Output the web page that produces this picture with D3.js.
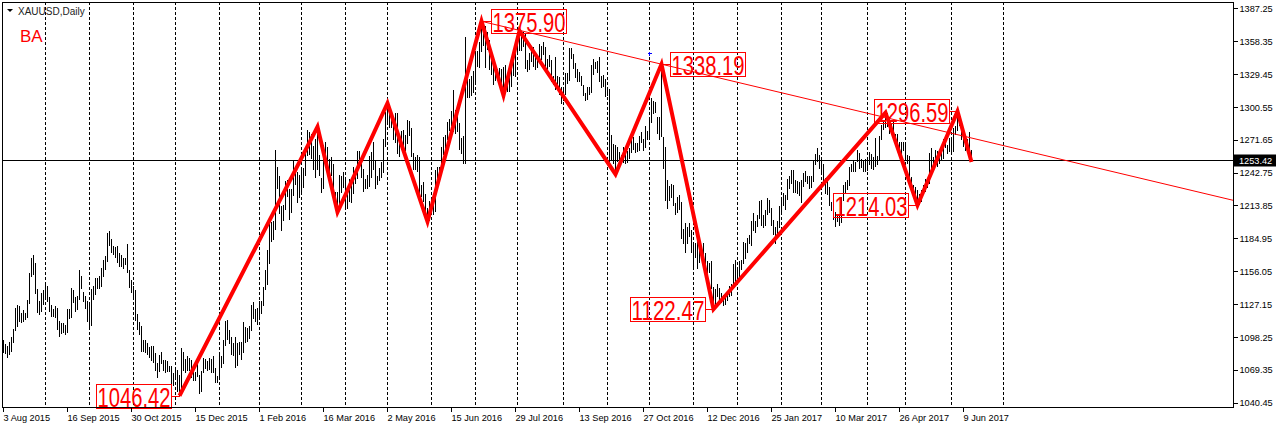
<!DOCTYPE html>
<html><head><meta charset="utf-8">
<script src="https://cdn.jsdelivr.net/npm/d3@7"></script>
<style>
body{margin:0;background:#fff;}
svg{display:block;}
text{font-family:"Liberation Sans",Arial,sans-serif;}
</style>
</head><body>
<svg id="c" width="1276" height="428"></svg>
<script>
// ---------------- DATA ----------------
const symbolTitle = "XAUUSD,Daily";
const studyName = "BA";
const startDate = "2015-08-03";
const holidays = ["2015-12-25", "2016-01-01", "2016-03-25", "2017-04-14"];

// daily highs (one per trading day from startDate)
const highs = [
// Aug 2015
1095,1092,1090,1094,1098,1105,1124,1126,1125,1119,1122,1119,1131,1154,1168,1170,1163,1140,1130,1137,1139,
// Sep 2015
1146,1143,1133,1126,1123,1125,1124,1112,1110,1110,1109,1123,1123,1141,1139,1133,1134,1157,1152,1138,1134,1130,
// Oct 2015
1127,1140,1143,1150,1150,1152,1159,1166,1169,1190,1191,1184,1178,1177,1178,1172,1170,1168,1168,1180,1157,1148,
// Nov 2015
1143,1139,1118,1111,1108,1095,1095,1093,1089,1090,1090,1084,1075,1082,1085,1078,1078,1077,1073,1073,1066,
// Dec 2015
1071,1069,1065,1088,1085,1079,1081,1080,1078,1072,1067,1080,1065,1068,1080,1079,1077,1080,1079,1081,1071,1064,
// Jan 2016
1083,1081,1095,1112,1113,1104,1098,1093,1098,1093,1094,1094,1111,1107,1106,1108,1126,1129,1123,1124,
// Feb 2016
1130,1130,1142,1157,1175,1200,1199,1200,1263,1248,1240,1213,1214,1235,1236,1228,1228,1253,1246,1243,1241,
// Mar 2016
1245,1247,1260,1280,1278,1277,1266,1272,1283,1258,1238,1267,1270,1265,1255,1256,1250,1226,1226,1241,1240,1243,
// Apr 2016
1237,1224,1237,1233,1248,1244,1262,1262,1257,1246,1237,1241,1257,1261,1270,1254,1240,1247,1252,1272,1296,
// May 2016
1303.7,1303,1294,1287,1295,1295,1268,1279,1280,1276,1289,1288,1282,1260,1256,1258,1256,1232,1234,1224,1212,1218,
// Jun 2016
1219,1215,1245,1248,1248,1265,1274,1276,1287,1290,1297,1315,1298,1294,1286,1273,1275,1362,1336,1325,1328,1332,
// Jul 2016
1350,1350,1358,1375.9,1368,1372,1366,1359,1348,1342,1338,1334,1335,1334,1336,1337,1324,1328,1343,1343,1357,
// Aug 2016
1357,1367.5,1364,1366,1365,1342,1348,1352,1353,1349,1345,1356,1354,1358,1353,1343,1346,1342,1328,1344,1328,1327,1318,
// Sep 2016
1318,1330,1330,1352,1352,1347,1339,1334,1331,1328,1320,1313,1318,1318,1337,1343,1340,1341,1344,1328,1329,1325,
// Oct 2016
1318,1316,1276,1268,1267,1265,1261,1258,1265,1262,1262,1264,1275,1274,1269,1269,1275,1278,1272,1284,1279,
// Nov 2016
1292,1308,1306,1305,1292,1292,1338.19,1274,1265,1236,1231,1233,1232,1216,1221,1223,1217,1193,1198,1195,1198,1192,
// Dec 2016
1182,1181,1190,1176,1178,1181,1172,1165,1163,1165,1142,1140,1145,1141,1137,1135,1134,1137,1143,1145,1162,1166,
// Jan 2017
1160,1165,1166,1182,1181,1185,1188,1200,1207,1200,1205,1218,1219,1205,1210,1220,1219,1212,1201,1195,1200,1213,
// Feb 2017
1220,1225,1223,1237,1240,1245,1245,1236,1235,1234,1236,1242,1244,1240,1240,1240,1253,1259,1264,1258,
// Mar 2017
1254,1250,1238,1237,1230,1217,1212,1208,1206,1205,1221,1232,1234,1236,1248,1250,1253,1252,1263,1260,1255,1253,1255,
// Apr 2017
1256,1261,1259,1256,1273,1257,1275,1285,1289,1295.4,1295,1292,1286,1289,1277,1277,1270,1270,1270,
// May 2017
1268,1258,1257,1239,1232,1230,1227,1224,1227,1232,1237,1238,1260,1264,1256,1263,1262,1259,1266,1272,1271,1267,1273,
// Jun 2017
1272,1282,1284,1296.59,1295,1289,1280,1270,1272,1278,1263
];

// daily lows
const lows = [
// Aug 2015
1084,1083,1080,1082,1085,1093,1103,1107,1111,1110,1111,1113,1115,1127,1151,1153,1136,1119,1117,1120,1126,
// Sep 2015
1131,1129,1120,1116,1116,1115,1104,1098,1101,1102,1100,1102,1114,1115,1128,1120,1122,1131,1140,1129,1123,1111,
// Oct 2015
1105,1108,1131,1135,1140,1140,1142,1151,1157,1164,1178,1172,1170,1168,1163,1160,1160,1158,1161,1154,1141,1137,
// Nov 2015
1131,1112,1104,1100,1085,1085,1084,1082,1080,1077,1075,1068,1062,1067,1074,1068,1066,1067,1067,1052,1055,
// Dec 2015
1061,1050,1046.42,1047,1068,1066,1068,1068,1062,1059,1059,1063,1047.5,1050,1066,1070,1068,1069,1066,1066,1058,1058,
// Jan 2016
1061,1071,1074,1090,1095,1092,1082,1081,1071,1073,1082,1078,1084,1093,1094,1096,1103,1114,1111,1109,
// Feb 2016
1115,1118,1125,1139,1144,1162,1182,1183,1192,1228,1206,1191,1200,1210,1221,1201,1207,1222,1232,1216,1220,
// Mar 2016
1225,1229,1240,1257,1258,1255,1245,1238,1245,1240,1225,1228,1253,1248,1240,1240,1221,1210,1208,1215,1225,1229,
// Apr 2016
1210,1211,1217,1216,1224,1233,1237,1250,1238,1226,1228,1228,1230,1238,1245,1228,1232,1235,1238,1242,1265,
// May 2016
1287,1282,1282,1271,1269,1259,1256,1263,1262,1262,1268,1275,1256,1245,1245,1243,1224,1221,1217,1205,1199.6,1200,
// Jun 2016
1207,1205,1208,1237,1238,1241,1258,1260,1271,1279,1284,1278,1277,1278,1263,1259,1250,1250,1308,1308,1310,1313,
// Jul 2016
1320,1336,1335,1349,1354,1335,1351,1333,1329,1320,1323,1325,1318,1314,1310.7,1318,1314,1314,1318,1328,1327,
// Aug 2016
1346,1350,1350,1353,1334,1331,1333,1340,1336,1333,1335,1339,1342,1346,1336,1333,1336,1322,1320,1315,1318,1311,1303,
// Sep 2016
1306,1311,1321,1323,1343,1334,1326,1322,1322,1319,1310,1306,1307,1311,1313,1329,1334,1330,1322,1317,1318,1309,
// Oct 2016
1310,1248,1253,1250,1241.3,1252,1249,1250,1251,1250,1251,1255,1260,1263,1260,1261,1262,1269,1262,1264,1271,
// Nov 2016
1273,1286,1294,1295,1277,1271,1274,1246,1218,1211,1218,1220,1213,1205,1207,1210,1184,1180,1172,1180,1186,1172,
// Dec 2016
1160,1168,1158,1163,1167,1167,1158,1152,1154,1140,1122.47,1125,1133,1127,1128,1125,1126,1130,1133,1134,1142,1145,
// Jan 2017
1146,1148,1157,1162,1167,1172,1180,1178,1191,1190,1195,1202,1196,1194,1196,1205,1207,1196,1188,1180,1187,1194,
// Feb 2017
1205,1213,1210,1219,1228,1233,1225,1225,1224,1222,1216,1230,1234,1233,1228,1229,1234,1249,1252,1246,
// Mar 2017
1241,1233,1224,1223,1213,1209,1201,1195,1199,1196,1198,1218,1225,1227,1231,1243,1243,1243,1252,1246,1247,1243,1243,
// Apr 2017
1244,1249,1246,1245,1248,1249,1253,1271,1280,1282,1283,1277,1277,1278,1266,1262,1262,1258,1262,
// May 2017
1253,1250,1235,1226,1222,1221,1214.03,1214.5,1217,1223,1226,1229,1233,1245,1245,1253,1248,1250,1253,1255,1264,1259,1261,
// Jun 2017
1260,1261,1276,1279,1284,1271,1265,1262,1262,1257,1252
];

const yTickValues = [1387.25,1358.35,1329.45,1300.55,1271.65,1242.75,1213.85,1184.95,1156.05,1127.15,1098.25,1069.35,1040.45];
const xTickDates = ["2015-08-03","2015-09-16","2015-10-30","2015-12-15","2016-02-01","2016-03-16","2016-05-02","2016-06-15",
                    "2016-07-29","2016-09-13","2016-10-27","2016-12-12","2017-01-25","2017-03-10","2017-04-26","2017-06-09"];
const gridMonths = ["2015-09-01","2015-10-01","2015-11-01","2015-12-01","2016-01-01","2016-02-01","2016-03-01","2016-04-01",
                    "2016-05-01","2016-06-01","2016-07-01","2016-08-01","2016-09-01","2016-10-01","2016-11-01","2016-12-01",
                    "2017-01-01","2017-02-01","2017-03-01","2017-04-01","2017-05-01","2017-06-01","2017-07-01"];

// zigzag vertices
const zigzagDates  = ["2015-12-03","2016-03-11","2016-03-28","2016-05-02","2016-05-30","2016-07-06","2016-07-21","2016-08-02",
                      "2016-10-07","2016-11-09","2016-12-15","2017-04-17","2017-05-09","2017-06-06","2017-06-15"];
const zigzagPrices = [1046.42,1283,1208,1303.7,1199.6,1375.9,1310.7,1367.5,1241.3,1338.19,1122.47,1295.4,1214.03,1296.59,1252];

// price labels on zigzag
const labelDates = ["2015-12-03","2016-07-06","2016-11-09","2016-12-15","2017-05-09","2017-06-06"];
const labelPrices = [1046.42,1375.90,1338.19,1122.47,1214.03,1296.59];
const labelSides = ["left","right","right","left","left","left"];

// trend line through two peaks
const trendDates = ["2016-07-06","2016-11-09"];
const trendPrices = [1375.90,1338.19];

const lastPrice = 1253.42;
const markerDate = "2016-11-01", markerPrice = 1347.9;

// ---------------- LAYOUT ----------------
const W = 1276, H = 428;
const L = 2, T = 2, R = 1233, B = 407;
const svg = d3.select("#c");

const parse = d3.utcParse("%Y-%m-%d");
const keyFmt = d3.utcFormat("%Y-%m-%d");
const labFmt = d3.utcFormat("%-d %b %Y");
const hol = new Set(holidays);
const dates = [];
let dd = parse(startDate);
while (dates.length < highs.length) {
  const dow = dd.getUTCDay();
  if (dow !== 0 && dow !== 6 && !hol.has(keyFmt(dd))) dates.push(dd);
  dd = d3.utcDay.offset(dd, 1);
}
function idxOf(s) {
  const t = parse(s);
  const i = d3.bisectLeft(dates, t);
  if (i < dates.length) return i;
  return dates.length - 1 + d3.utcDay.count(dates[dates.length - 1], t);
}

const x = d3.scaleLinear().domain([0, 615]).range([3, 1233]);
const y = d3.scaleLinear().domain([1040.45, 1387.25]).range([402.5, 8.3]);
const px = v => Math.round(x(v)) + 0.5;

svg.append("defs").append("clipPath").attr("id", "clip")
  .append("rect").attr("x", L).attr("y", T).attr("width", R - L).attr("height", B - T);

const plot = svg.append("g").attr("clip-path", "url(#clip)");

// grid (dashed verticals at month starts)
plot.append("g").selectAll("line").data(gridMonths).join("line")
  .attr("x1", d => px(idxOf(d))).attr("x2", d => px(idxOf(d)))
  .attr("y1", T).attr("y2", B)
  .attr("stroke", "#000").attr("stroke-width", 1)
  .attr("stroke-dasharray", "3,2").attr("shape-rendering", "crispEdges");

// current price line
plot.append("line")
  .attr("x1", L).attr("x2", R)
  .attr("y1", Math.round(y(lastPrice)) + 0.5).attr("y2", Math.round(y(lastPrice)) + 0.5)
  .attr("stroke", "#000").attr("shape-rendering", "crispEdges");

// bars
plot.append("g").selectAll("line").data(highs.map((h, i) => ({i, h, l: lows[i]}))).join("line")
  .attr("x1", d => px(d.i)).attr("x2", d => px(d.i))
  .attr("y1", d => Math.round(y(d.h))).attr("y2", d => Math.max(Math.round(y(d.l)), Math.round(y(d.h)) + 1))
  .attr("stroke", "#000").attr("stroke-width", 1).attr("shape-rendering", "crispEdges");

// trend line
const ti0 = idxOf(trendDates[0]), ti1 = idxOf(trendDates[1]);
const slope = (trendPrices[1] - trendPrices[0]) / (ti1 - ti0);
const tEnd = x.invert(R);
plot.append("path")
  .datum([[ti0, trendPrices[0]], [tEnd, trendPrices[0] + slope * (tEnd - ti0)]])
  .attr("d", d3.line().x(d => x(d[0])).y(d => y(d[1])))
  .attr("fill", "none").attr("stroke", "#ff0000").attr("stroke-width", 1);

// zigzag
plot.append("path")
  .datum(zigzagDates.map((d, i) => [idxOf(d), zigzagPrices[i]]))
  .attr("d", d3.line().x(d => x(d[0]) + 0.5).y(d => y(d[1])))
  .attr("fill", "none").attr("stroke", "#ff0000").attr("stroke-width", 4)
  .attr("stroke-linejoin", "miter");

// blue cross marker
const mx = px(idxOf(markerDate)), my = Math.round(y(markerPrice)) + 0.5;
plot.append("path").attr("d", `M${mx - 2},${my}H${mx + 2}M${mx},${my - 2}V${my + 2}`)
  .attr("stroke", "#0000ff").attr("stroke-width", 1).attr("shape-rendering", "crispEdges");

// zigzag price labels
const BW = 75, BH = 24, GAP = 9;
const lab = svg.append("g");
labelDates.forEach((d, k) => {
  const ax = x(idxOf(d)) + 0.5, ay = y(labelPrices[k]);
  const bx = labelSides[k] === "right" ? ax + GAP : ax - GAP - BW;
  const edge = labelSides[k] === "right" ? bx : bx + BW;
  const by = Math.round(ay - BH / 2) + 0.5;
  lab.append("line").attr("x1", ax).attr("x2", edge).attr("y1", Math.round(ay) + 0.5).attr("y2", Math.round(ay) + 0.5)
    .attr("stroke", "#ff0000").attr("shape-rendering", "crispEdges");
  lab.append("rect").attr("x", Math.round(bx) + 0.5).attr("y", by).attr("width", BW).attr("height", BH)
    .attr("fill", "none").attr("stroke", "#ff0000").attr("shape-rendering", "crispEdges");
  lab.append("text").attr("x", Math.round(bx) + 1.5).attr("y", by + BH - 2)
    .attr("font-size", 28).attr("fill", "#ff0000")
    .attr("textLength", BW - 2).attr("lengthAdjust", "spacingAndGlyphs")
    .text(labelPrices[k].toFixed(2));
});

// frame
svg.append("rect").attr("x", L + 0.5).attr("y", T + 0.5).attr("width", R - L).attr("height", B - T)
  .attr("fill", "none").attr("stroke", "#000").attr("shape-rendering", "crispEdges");

// right axis
const yAxis = svg.append("g").attr("transform", `translate(${R + 0.5},0)`)
  .call(d3.axisRight(y).tickValues(yTickValues).tickSize(4).tickSizeOuter(0).tickFormat(d3.format(".2f")));
yAxis.select(".domain").remove();
yAxis.selectAll("line").attr("shape-rendering", "crispEdges");
yAxis.selectAll("text").attr("font-size", 9.2).attr("font-family", "Liberation Sans, Arial, sans-serif")
  .attr("x", 6).attr("dy", "0.35em").attr("fill", "#000");

// bottom axis
const xAxis = svg.append("g").attr("transform", `translate(0,${B + 0.5})`)
  .call(d3.axisBottom(x).tickValues(xTickDates.map(idxOf)).tickSize(4).tickSizeOuter(0)
        .tickFormat(i => labFmt(dates[i])));
xAxis.select(".domain").remove();
xAxis.selectAll(".tick").attr("transform", d => `translate(${px(d)},0)`);
xAxis.selectAll("line").attr("shape-rendering", "crispEdges");
xAxis.selectAll("text").attr("font-size", 9.2).attr("font-family", "Liberation Sans, Arial, sans-serif")
  .attr("text-anchor", "start").attr("x", 0).attr("y", 13).attr("dy", null).attr("fill", "#000");

// current price tag
const cy = y(lastPrice);
svg.append("rect").attr("x", R + 1).attr("y", Math.round(cy) - 5.5).attr("width", W - R - 1).attr("height", 12).attr("fill", "#000");
svg.append("text").attr("x", R + 6).attr("y", cy).attr("dy", "0.35em")
  .attr("font-size", 9.2).attr("fill", "#fff").text(lastPrice.toFixed(2));

// title and study name
svg.append("path").attr("d", "M7,9L13,9L10,12Z").attr("fill", "#000");
svg.append("text").attr("x", 18).attr("y", 15).attr("font-size", 10).attr("fill", "#222").text(symbolTitle);
svg.append("text").attr("x", 20).attr("y", 42).attr("font-size", 17).attr("fill", "#ff0000").text(studyName);
</script>
</body></html>
